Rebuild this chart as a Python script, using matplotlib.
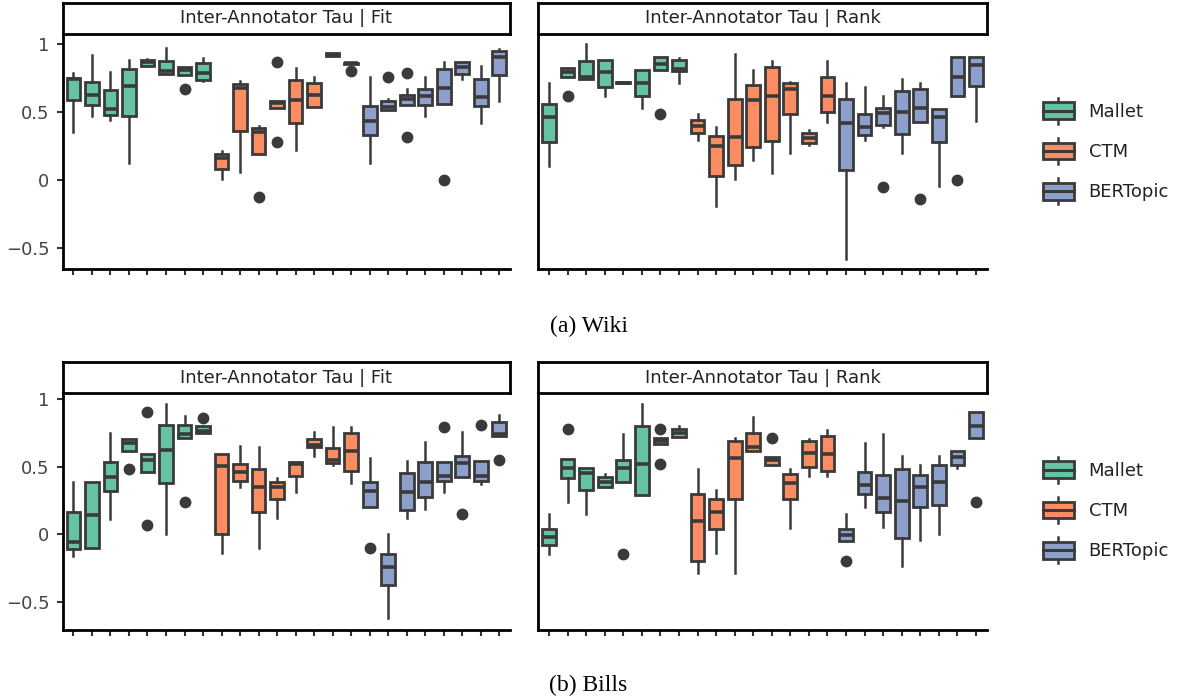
import matplotlib
matplotlib.use("Agg")
import matplotlib.pyplot as plt
from matplotlib.patches import Patch, Rectangle
from matplotlib.lines import Line2D
from matplotlib.legend_handler import HandlerBase

# modelos (8 cajas por modelo en cada panel)
models = ["Mallet", "CTM", "BERTopic"]
colors = ["#66c2a5", "#fc8d62", "#8da0cb"]
edge = "#3a3a3a"

# cada caja: (bigote inf, q1, mediana, q3, bigote sup)
wiki_fit = [
    (0.355, 0.588, 0.745, 0.752, 0.789), (0.473, 0.549, 0.625, 0.723, 0.919),
    (0.439, 0.475, 0.522, 0.659, 0.794), (0.123, 0.471, 0.691, 0.819, 0.882),
    (0.836, 0.841, 0.865, 0.880, 0.890), (0.782, 0.782, 0.800, 0.877, 0.968),
    (0.772, 0.772, 0.809, 0.828, 0.828), (0.728, 0.735, 0.784, 0.858, 0.897),
    (0.005, 0.078, 0.165, 0.189, 0.213), (0.061, 0.363, 0.676, 0.703, 0.730),
    (0.189, 0.189, 0.350, 0.385, 0.397), (0.532, 0.532, 0.564, 0.581, 0.581),
    (0.221, 0.417, 0.588, 0.733, 0.826), (0.539, 0.539, 0.625, 0.711, 0.755),
    (0.915, 0.915, 0.920, 0.930, 0.930), (0.855, 0.855, 0.858, 0.862, 0.862),
    (0.127, 0.328, 0.434, 0.547, 0.760), (0.512, 0.512, 0.539, 0.581, 0.593),
    (0.549, 0.549, 0.596, 0.627, 0.667), (0.468, 0.549, 0.618, 0.669, 0.755),
    (0.559, 0.559, 0.679, 0.816, 0.865), (0.745, 0.777, 0.833, 0.868, 0.868),
    (0.417, 0.544, 0.613, 0.743, 0.836), (0.578, 0.775, 0.902, 0.951, 0.966),
]
wiki_fit_out = {6: [0.669], 10: [-0.123], 11: [0.868, 0.282], 15: [0.804],
                17: [0.760], 18: [0.784, 0.314], 20: [0.0]}

wiki_rank = [
    (0.103, 0.277, 0.461, 0.561, 0.711), (0.760, 0.760, 0.792, 0.821, 0.821),
    (0.740, 0.740, 0.755, 0.877, 0.998), (0.620, 0.686, 0.797, 0.880, 0.880),
    (0.710, 0.710, 0.716, 0.722, 0.722), (0.527, 0.618, 0.716, 0.811, 0.811),
    (0.809, 0.809, 0.853, 0.902, 0.902), (0.716, 0.801, 0.816, 0.882, 0.900),
    (0.294, 0.343, 0.397, 0.441, 0.485), (-0.191, 0.029, 0.252, 0.324, 0.392),
    (0.005, 0.113, 0.319, 0.596, 0.924), (0.147, 0.245, 0.588, 0.699, 0.806),
    (0.049, 0.287, 0.618, 0.831, 0.875), (0.196, 0.485, 0.667, 0.716, 0.721),
    (0.255, 0.275, 0.311, 0.343, 0.368), (0.429, 0.500, 0.620, 0.755, 0.875),
    (-0.581, 0.071, 0.422, 0.593, 0.711), (0.294, 0.331, 0.387, 0.483, 0.681),
    (0.392, 0.404, 0.490, 0.527, 0.615), (0.196, 0.338, 0.502, 0.654, 0.745),
    (0.426, 0.426, 0.527, 0.669, 0.711), (-0.044, 0.279, 0.461, 0.525, 0.525),
    (0.618, 0.618, 0.760, 0.907, 0.907), (0.431, 0.691, 0.843, 0.907, 0.907),
]
wiki_rank_out = {1: [0.62], 6: [0.488], 18: [-0.049], 20: [-0.142], 22: [0.0]}

bills_fit = [
    (-0.160, -0.111, -0.054, 0.168, 0.385), (-0.104, -0.104, 0.143, 0.390, 0.390),
    (0.114, 0.321, 0.427, 0.536, 0.753), (0.620, 0.620, 0.674, 0.706, 0.706),
    (0.459, 0.459, 0.551, 0.593, 0.593), (0.002, 0.378, 0.625, 0.810, 0.965),
    (0.716, 0.716, 0.743, 0.810, 0.879), (0.751, 0.751, 0.765, 0.800, 0.800),
    (-0.136, 0.0, 0.504, 0.593, 0.593), (0.353, 0.395, 0.459, 0.523, 0.654),
    (-0.104, 0.168, 0.351, 0.486, 0.649), (0.123, 0.259, 0.351, 0.390, 0.417),
    (0.316, 0.432, 0.519, 0.536, 0.536), (0.580, 0.649, 0.662, 0.704, 0.756),
    (0.514, 0.531, 0.548, 0.642, 0.793), (0.383, 0.469, 0.620, 0.753, 0.793),
    (0.200, 0.200, 0.321, 0.390, 0.563), (-0.622, -0.375, -0.240, -0.146, 0.0),
    (0.119, 0.183, 0.314, 0.452, 0.546), (0.185, 0.274, 0.388, 0.533, 0.686),
    (0.311, 0.395, 0.432, 0.533, 0.533), (0.425, 0.425, 0.531, 0.580, 0.760),
    (0.370, 0.398, 0.435, 0.543, 0.543), (0.731, 0.731, 0.743, 0.835, 0.884),
]
bills_fit_out = {3: [0.486], 4: [0.909, 0.069], 6: [0.24], 7: [0.864],
                 16: [-0.104], 20: [0.798], 21: [0.151], 22: [0.81], 23: [0.553]}

bills_rank = [
    (-0.146, -0.077, -0.017, 0.040, 0.148), (0.242, 0.420, 0.489, 0.560, 0.560),
    (0.148, 0.326, 0.452, 0.489, 0.489), (0.348, 0.348, 0.385, 0.422, 0.444),
    (0.388, 0.388, 0.489, 0.551, 0.746), (0.289, 0.289, 0.523, 0.805, 0.968),
    (0.672, 0.672, 0.694, 0.716, 0.716), (0.719, 0.719, 0.748, 0.780, 0.800),
    (-0.289, -0.195, 0.101, 0.296, 0.481), (-0.141, 0.040, 0.168, 0.262, 0.331),
    (-0.289, 0.262, 0.565, 0.691, 0.711), (0.617, 0.617, 0.649, 0.753, 0.872),
    (0.514, 0.514, 0.548, 0.573, 0.573), (0.049, 0.259, 0.383, 0.444, 0.481),
    (0.432, 0.499, 0.600, 0.689, 0.706), (0.432, 0.472, 0.595, 0.728, 0.773),
    (-0.047, -0.047, -0.005, 0.040, 0.148), (0.200, 0.296, 0.365, 0.462, 0.679),
    (0.052, 0.168, 0.272, 0.440, 0.743), (-0.235, -0.025, 0.249, 0.481, 0.578),
    (-0.042, 0.205, 0.353, 0.437, 0.511), (0.002, 0.217, 0.385, 0.511, 0.583),
    (0.489, 0.511, 0.570, 0.617, 0.617), (0.711, 0.711, 0.805, 0.904, 0.904),
]
bills_rank_out = {1: [0.78], 4: [-0.148], 6: [0.78, 0.523], 12: [0.711],
                  16: [-0.195], 23: [0.24]}

yticks = [-0.5, 0, 0.5, 1]
yticklabels = ["\u22120.5", "0", "0.5", "1"]

W, H = 1180, 699
fig = plt.figure(figsize=(W / 100, H / 100), dpi=100)


def px_axes(x0, x1, y_top, y_bot):
    # ejes a partir de coordenadas en pixeles (origen arriba-izquierda)
    return fig.add_axes([x0 / W, 1 - y_bot / H, (x1 - x0) / W, (y_bot - y_top) / H])


def panel(ax, data, outliers, ylim, first):
    stats = []
    for i, (lo, q1, med, q3, hi) in enumerate(data):
        stats.append(dict(whislo=lo, q1=q1, med=med, q3=q3, whishi=hi,
                          fliers=outliers.get(i, [])))
    bp = ax.bxp(stats, positions=range(len(data)), widths=0.74, patch_artist=True,
                showcaps=False,
                boxprops=dict(edgecolor=edge, linewidth=2.0),
                whiskerprops=dict(color=edge, linewidth=1.8),
                medianprops=dict(color=edge, linewidth=2.6, solid_capstyle="butt"),
                flierprops=dict(marker="o", markerfacecolor=edge, markeredgecolor=edge,
                                markersize=7.5))
    for i, b in enumerate(bp["boxes"]):
        b.set_facecolor(colors[i // 8])
    ax.set_xlim(-0.58, 23.58)
    ax.set_ylim(*ylim)
    ax.set_xticks(range(24))
    ax.set_xticklabels([])
    for s in ["top", "right"]:
        ax.spines[s].set_visible(False)
    for s in ["left", "bottom"]:
        ax.spines[s].set_linewidth(2.0)
        ax.spines[s].set_color("black")
    ax.tick_params(axis="x", length=4.5, width=1.5, color="#333333")
    if first:
        ax.set_yticks(yticks)
        ax.set_yticklabels(yticklabels)
        ax.tick_params(axis="y", length=4.5, width=1.5, color="#333333",
                       labelsize=13, labelcolor="#444444", pad=5)
    else:
        ax.set_yticks([])


def strip(x0, x1, y_top, y_bot, title):
    s = px_axes(x0, x1, y_top, y_bot)
    s.set_xticks([])
    s.set_yticks([])
    for sp in s.spines.values():
        sp.set_linewidth(2.0)
        sp.set_color("black")
    s.text(0.5, 0.5, title, ha="center", va="center", fontsize=13,
           color="#222222", transform=s.transAxes)


class BoxHandler(HandlerBase):
    # simbolo de leyenda con forma de caja
    def create_artists(self, legend, orig_handle, xdescent, ydescent,
                       width, height, fontsize, trans):
        c = orig_handle.get_facecolor()
        bh = height * 0.65
        y0 = -ydescent + (height - bh) / 2
        x0 = -xdescent
        cx = x0 + width / 2
        w1 = Line2D([cx, cx], [-ydescent, y0], color=edge, lw=1.8, transform=trans)
        w2 = Line2D([cx, cx], [y0 + bh, -ydescent + height], color=edge, lw=1.8,
                    transform=trans)
        r = Rectangle((x0, y0), width, bh, facecolor=c, edgecolor=edge, lw=2.0,
                      transform=trans)
        m = Line2D([x0, x0 + width], [y0 + bh / 2] * 2, color=edge, lw=2.2,
                   transform=trans)
        return [w1, w2, r, m]


handles = [Patch(facecolor=c) for c in colors]

rows = [
    (wiki_fit, wiki_fit_out, wiki_rank, wiki_rank_out, (-0.654, 1.077),
     2.7, 33.5, 269, "(a) Wiki", 326, 151),
    (bills_fit, bills_fit_out, bills_rank, bills_rank_out, (-0.707, 1.044),
     362, 393.3, 629.7, "(b) Bills", 685, 510),
]

for fit, fit_out, rank, rank_out, ylim, st, top, bot, cap, cap_y, leg_y in rows:
    ax1 = px_axes(62.7, 510, top, bot)
    panel(ax1, fit, fit_out, ylim, True)
    ax2 = px_axes(538.3, 986.7, top, bot)
    panel(ax2, rank, rank_out, ylim, False)
    strip(62.7, 510, st, top, "Inter-Annotator Tau | Fit")
    strip(538.3, 986.7, st, top, "Inter-Annotator Tau | Rank")
    fig.text(588.5 / W, 1 - cap_y / H, cap, ha="center", va="center",
             family="Liberation Serif", fontsize=17)
    fig.legend(handles, models, loc="center left",
               bbox_to_anchor=(1042.7 / W, 1 - leg_y / H), frameon=False,
               borderpad=0, borderaxespad=0, fontsize=13, handlelength=1.75,
               handleheight=1.85, handletextpad=0.8, labelspacing=0.78,
               labelcolor="#222222", handler_map={Patch: BoxHandler()})

fig.savefig("out.png", dpi=100)
